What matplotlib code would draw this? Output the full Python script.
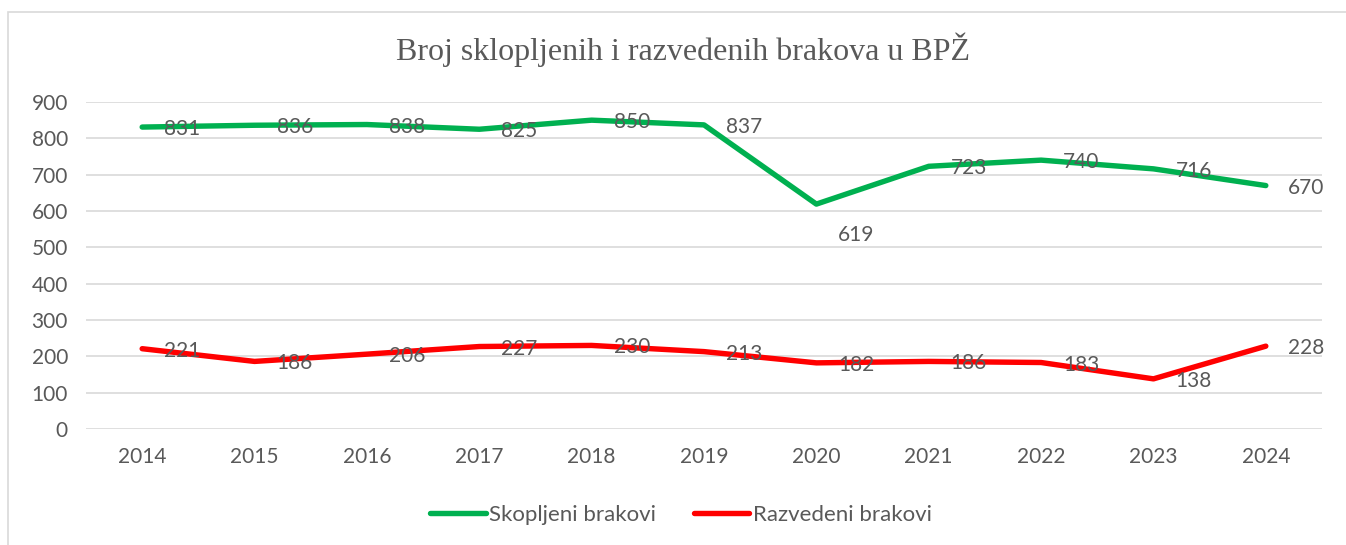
import matplotlib.pyplot as plt
from matplotlib.patches import Rectangle

years = [2014, 2015, 2016, 2017, 2018, 2019, 2020, 2021, 2022, 2023, 2024]
skopljeni = [831, 836, 838, 825, 850, 837, 619, 723, 740, 716, 670]
razvedeni = [221, 186, 206, 227, 230, 213, 182, 186, 183, 138, 228]
y_ticks = [0, 100, 200, 300, 400, 500, 600, 700, 800, 900]

title = "Broj sklopljenih i razvedenih brakova u BPŽ"
text_color = "#595959"
green = "#00B050"
red = "#FF0000"

plt.rcParams['font.family'] = ['Lato', 'DejaVu Sans']

fig = plt.figure(figsize=(13.46, 5.45), dpi=100)
ax = fig.add_axes([86 / 1346, 1 - 429 / 545, (1322 - 86) / 1346, 327 / 545])

x = list(range(len(years)))
ax.plot(x, skopljeni, color=green, lw=3.9, solid_capstyle='round',
        solid_joinstyle='round', label="Skopljeni brakovi", zorder=3)
ax.plot(x, razvedeni, color=red, lw=3.9, solid_capstyle='round',
        solid_joinstyle='round', label="Razvedeni brakovi", zorder=3)

# data labels to the right of the points (Excel style)
for series in (skopljeni, razvedeni):
    for i, v in enumerate(series):
        dy = -2
        if v == 619:
            dy = -31
        ax.annotate(str(v), (i, v), xytext=(22, dy), textcoords='offset pixels',
                    ha='left', va='center', fontsize=15, color=text_color, zorder=4)

ax.set_xlim(-0.5, len(years) - 0.5)
ax.set_ylim(0, 900)
ax.set_yticks(y_ticks)
ax.set_xticks(x)
ax.set_xticklabels([str(y) for y in years])
ax.tick_params(length=0, labelsize=15, colors=text_color)
ax.tick_params(axis='x', pad=13)
ax.tick_params(axis='y', pad=13)
ax.grid(axis='y', color='#D9D9D9', lw=1.2)
ax.set_axisbelow(True)
for s in ax.spines.values():
    s.set_visible(False)

fig.text(683 / 1346, 1 - 50 / 545, title, ha='center', va='center',
         fontsize=23, color=text_color, family='Liberation Serif')

leg = fig.legend(loc='center', bbox_to_anchor=(681 / 1346, 1 - 515 / 545), ncol=2,
                 frameon=False, fontsize=16, handlelength=2.5, handletextpad=0.14,
                 columnspacing=1.7)
for t in leg.get_texts():
    t.set_color(text_color)

# chart border
fig.patches.append(Rectangle((8 / 1346, -0.01), 1.1, 1 - 12 / 545 + 0.01,
                             transform=fig.transFigure, fill=False,
                             edgecolor='#D9D9D9', lw=1.2))

fig.savefig("out.png", dpi=100)
